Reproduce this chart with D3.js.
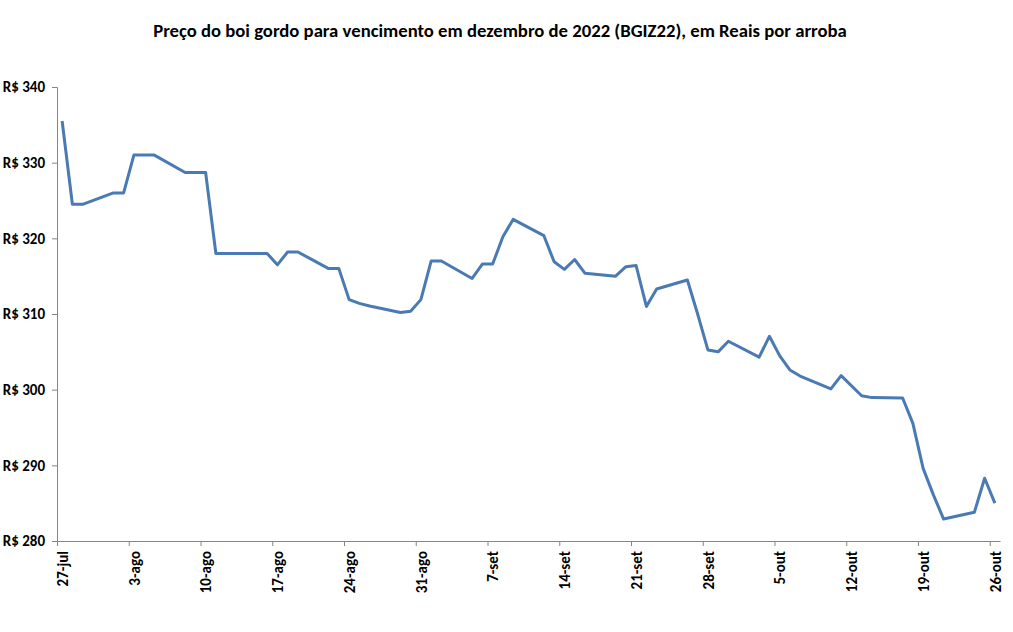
<!DOCTYPE html>
<html>
<head>
<meta charset="utf-8">
<script src="https://cdn.jsdelivr.net/npm/d3@7"></script>
<style>
  body { margin: 0; background: #fff; }
  text { font-family: Carlito, Lato, "Open Sans", sans-serif; font-weight: bold; fill: #000; }
</style>
</head>
<body>
<svg id="chart" width="1013" height="632"></svg>
<script>
// pregões (dias úteis) e preço de ajuste do BGIZ22, R$/@
var dates = [
  "2022-07-27", "2022-07-28", "2022-07-29",
  "2022-08-01", "2022-08-02", "2022-08-03", "2022-08-04", "2022-08-05",
  "2022-08-08", "2022-08-09", "2022-08-10", "2022-08-11", "2022-08-12",
  "2022-08-15", "2022-08-16", "2022-08-17", "2022-08-18", "2022-08-19",
  "2022-08-22", "2022-08-23", "2022-08-24", "2022-08-25", "2022-08-26",
  "2022-08-29", "2022-08-30", "2022-08-31", "2022-09-01", "2022-09-02",
  "2022-09-05", "2022-09-06", "2022-09-07", "2022-09-08", "2022-09-09",
  "2022-09-12", "2022-09-13", "2022-09-14", "2022-09-15", "2022-09-16",
  "2022-09-19", "2022-09-20", "2022-09-21", "2022-09-22", "2022-09-23",
  "2022-09-26", "2022-09-27", "2022-09-28", "2022-09-29", "2022-09-30",
  "2022-10-03", "2022-10-04", "2022-10-05", "2022-10-06", "2022-10-07",
  "2022-10-10", "2022-10-11", "2022-10-13", "2022-10-14",
  "2022-10-17", "2022-10-18", "2022-10-19", "2022-10-20", "2022-10-21",
  "2022-10-24", "2022-10-25", "2022-10-26"
];
var prices = [
  335.5, 324.5, 324.5,
  326.0, 326.0, 331.0, 331.0, 331.0,
  328.7, 328.7, 328.7, 318.0, 318.0,
  318.0, 318.0, 316.5, 318.2, 318.2,
  316.0, 316.0, 311.9, 311.4, 311.05,
  310.2, 310.35, 311.9, 317.0, 317.0,
  314.7, 316.6, 316.6, 320.2, 322.5,
  320.35, 316.9, 315.9, 317.2, 315.4,
  315.0, 316.25, 316.4, 311.0, 313.3,
  314.5, 310.0, 305.25, 305.0, 306.4,
  304.3, 307.05, 304.5, 302.6, 301.8,
  300.1, 301.85, 299.2, 298.95,
  298.9, 295.55, 289.6, 286.1, 282.9,
  283.8, 288.3, 285.0
];
var yTicks = [280, 290, 300, 310, 320, 330, 340];
var xTickLabels = ["27-jul", "3-ago", "10-ago", "17-ago", "24-ago", "31-ago", "7-set",
                   "14-set", "21-set", "28-set", "5-out", "12-out", "19-out", "26-out"];

var sTitle = "Preço do boi gordo para vencimento em dezembro de 2022 (BGIZ22), em Reais por arroba";
var sStroke = "#4a7ab3";
var sAxis = "#868686";

var margin = { top: 87, right: 13, bottom: 91, left: 57 };
var iWidth = 1013 - margin.left - margin.right;
var iHeight = 632 - margin.top - margin.bottom;

var parse = d3.utcParse("%Y-%m-%d");
var points = dates.map(function(d, i) {
  // ponto no meio do dia, como no eixo de datas do Excel
  return { x: d3.utcHour.offset(parse(d), 12), y: prices[i] };
});

var svg = d3.select("#chart");

svg.append("text")
  .attr("x", 500)
  .attr("y", 37)
  .attr("text-anchor", "middle")
  .style("font-size", "18.7px")
  .text(sTitle);

var chart = svg.append("g")
  .attr("transform", "translate(" + margin.left + "," + margin.top + ")");

// escala x: um dia por intervalo, do primeiro pregão até o dia seguinte ao último
var dStart = parse(dates[0]);
var dEnd = d3.utcDay.offset(parse(dates[dates.length - 1]), 1);
var xScale = d3.scaleUtc().domain([dStart, dEnd]).range([0, iWidth]);

// escala y
var yScale = d3.scaleLinear().domain([280, 340]).range([iHeight, 0]);

// eixo y
var axisY = chart.append("g")
  .call(d3.axisLeft(yScale).tickValues(yTicks).tickSize(5).tickPadding(7)
    .tickFormat(function(v) { return "R$ " + v; }));
axisY.select(".domain").attr("stroke", sAxis);
axisY.selectAll(".tick line").attr("stroke", sAxis);
axisY.selectAll(".tick text")
  .style("font-size", "15px")
  .style("font-family", null);

// eixo x: marcas semanais
var xTickDates = xTickLabels.map(function(s, k) {
  return d3.utcDay.offset(dStart, 7 * k);
});
var axisX = chart.append("g")
  .attr("transform", "translate(0," + iHeight + ")")
  .call(d3.axisBottom(xScale).tickValues(xTickDates).tickSize(5).tickSizeOuter(0)
    .tickFormat(function(d, i) { return xTickLabels[i]; }));
axisX.select(".domain").attr("stroke", sAxis);
axisX.selectAll(".tick line").attr("stroke", sAxis);
axisX.selectAll(".tick text")
  .style("font-size", "15px")
  .style("font-family", null)
  .attr("text-anchor", "end")
  .attr("transform", "rotate(-90)")
  .attr("x", -10)
  .attr("y", 5)
  .attr("dy", "0.35em");

// linha
var line = d3.line()
  .x(function(e) { return xScale(e.x); })
  .y(function(e) { return yScale(e.y); });

chart.append("path")
  .datum(points)
  .attr("fill", "none")
  .attr("stroke", sStroke)
  .attr("stroke-width", 3)
  .attr("stroke-linejoin", "round")
  .attr("d", line);
</script>
</body>
</html>
